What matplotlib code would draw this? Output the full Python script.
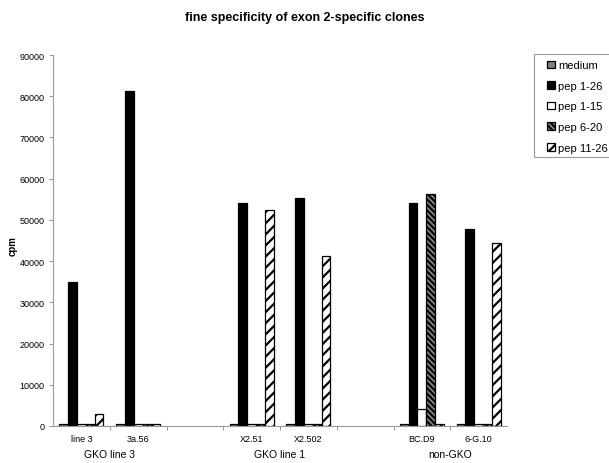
import numpy as np
import matplotlib
matplotlib.use("Agg")
import matplotlib.pyplot as plt
from matplotlib.patches import Rectangle

plt.rcParams['font.family'] = ['Liberation Sans', 'DejaVu Sans']
plt.rcParams['hatch.linewidth'] = 1.6

title = "fine specificity of exon 2-specific clones"
categories = ['line 3', '3a.56', '', 'X2.51', 'X2.502', '', 'BC.D9', '6-G.10']
groups = ['GKO line 3', 'GKO line 1', 'non-GKO']
group_pos = [0.5, 3.5, 6.5]
series = ['medium', 'pep 1-26', 'pep 1-15', 'pep 6-20', 'pep 11-26']
medium = [400, 400, np.nan, 400, 400, np.nan, 400, 400]
pep1_26 = [35000, 81300, np.nan, 54200, 55200, np.nan, 54200, 47800]
pep1_15 = [400, 400, np.nan, 500, 400, np.nan, 4200, 400]
pep6_20 = [400, 400, np.nan, 400, 400, np.nan, 56400, 400]
pep11_26 = [3000, 400, np.nan, 52300, 41300, np.nan, 400, 44300]
values = [medium, pep1_26, pep1_15, pep6_20, pep11_26]

styles = [
    dict(facecolor='#808080', edgecolor='black', hatch=None),
    dict(facecolor='black', edgecolor='black', hatch=None),
    dict(facecolor='white', edgecolor='black', hatch=None),
    dict(facecolor='#8a8a8a', edgecolor='black', hatch='\\\\\\\\\\\\'),
    dict(facecolor='white', edgecolor='black', hatch='///'),
]

W, H = 609, 464
fig = plt.figure(figsize=(W / 100, H / 100), dpi=100)
ax = fig.add_axes([53 / W, 1 - 427 / H, (507 - 53) / W, (427 - 56) / H])

x = np.arange(len(categories))
bw = 0.155
handles = []
for i, (vals, st) in enumerate(zip(values, styles)):
    b = ax.bar(x + (i - 2) * bw, vals, width=bw, linewidth=0.9, label=series[i], **st)
    handles.append(b)

ax.set_xlim(-0.5, len(categories) - 0.5)
ax.set_ylim(0, 90000)
ax.set_yticks(np.arange(0, 90001, 10000))
ax.tick_params(axis='y', labelsize=6.5, length=3, width=0.6, color='#888888', pad=3)
ax.set_xticks(x)
ax.set_xticklabels(categories, fontsize=6.5)
ax.tick_params(axis='x', which='major', length=0, pad=6)
ax.set_xticks(np.arange(0.5, len(categories) - 0.5, 1), minor=True)
ax.tick_params(axis='x', which='minor', length=3, width=0.6, color='#888888')
for s in ['top', 'right']:
    ax.spines[s].set_visible(False)
for s in ['left', 'bottom']:
    ax.spines[s].set_color('#999999')
    ax.spines[s].set_linewidth(0.8)

fig.text(13 / W, 1 - 246 / H, 'cpm', rotation=90, ha='center', va='center',
         fontsize=7, fontweight='bold')
for g, p in zip(groups, group_pos):
    ax.text(p, -6900, g, ha='center', va='center', fontsize=7.5, transform=ax.transData)

fig.text(305 / W, 1 - 18 / H, title, ha='center', va='center', fontsize=9, fontweight='bold')

# legend frame
fig.patches.append(Rectangle((534 / W, 1 - 158 / H), 90 / W, 103 / H, transform=fig.transFigure,
                             facecolor='white', edgecolor='#999999', linewidth=0.8))
leg = fig.legend(handles=handles, labels=series, loc='upper left',
                 bbox_to_anchor=(544 / W, 1 - 58 / H), frameon=False, fontsize=8,
                 handlelength=0.7, handleheight=0.7, handletextpad=0.3,
                 labelspacing=0.95, borderpad=0.3, borderaxespad=0)

fig.savefig('out.png', dpi=100)
